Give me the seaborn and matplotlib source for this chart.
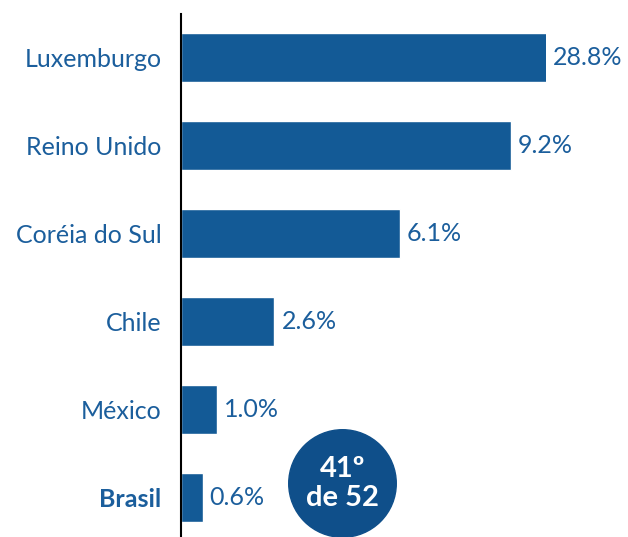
import matplotlib
matplotlib.use('Agg')
import matplotlib.pyplot as plt
import seaborn as sns
import pandas as pd

# dados
paises = ['Luxemburgo', 'Reino Unido', 'Coréia do Sul', 'Chile', 'México', 'Brasil']
valores = [28.8, 9.2, 6.1, 2.6, 1.0, 0.6]
rotulos = ['28.8%', '9.2%', '6.1%', '2.6%', '1.0%', '0.6%']
ranking = '41º\nde 52'

AZUL_BARRA = '#135a96'
AZUL_TEXTO = '#1b5e9c'
AZUL_CIRCULO = '#0f4f8a'

sns.set_style('white')
plt.rcParams['font.family'] = ['Lato', 'DejaVu Sans']

df = pd.DataFrame({'pais': paises, 'valor': valores})

fig = plt.figure(figsize=(6.28, 5.37), dpi=100)
ax = fig.add_axes([181 / 628, -4.5 / 537, 365 / 628, 528 / 537])

sns.barplot(data=df, x='valor', y='pais', color=AZUL_BARRA, width=0.56,
            saturation=1, ax=ax)

# eixo quebrado: a barra de Luxemburgo fica cortada na borda
XMAX = 10.18
ax.set_xlim(0, XMAX)
ax.set_ylim(5.5, -0.5)

for i, (v, r) in enumerate(zip(valores, rotulos)):
    ax.text(min(v, XMAX) + 0.2, i, r, va='center', ha='left', fontsize=18,
            color=AZUL_TEXTO, clip_on=False)

ax.set_xlabel('')
ax.set_ylabel('')
ax.set_xticks([])
ax.set_yticks(range(len(paises)))
ax.set_yticklabels(paises, fontsize=18, color=AZUL_TEXTO)
ax.get_yticklabels()[-1].set_fontweight('bold')
ax.tick_params(axis='y', length=0, pad=14)

for s in ['top', 'right', 'bottom']:
    ax.spines[s].set_visible(False)
ax.spines['left'].set_color('black')
ax.spines['left'].set_linewidth(1.5)

# selo do ranking
ax.scatter([4.5], [4.84], s=6000, color=AZUL_CIRCULO, clip_on=False, zorder=5)
ax.text(4.5, 4.84, ranking, ha='center', va='center', fontsize=21,
        fontweight='bold', color='white', linespacing=1.15, zorder=6)

fig.savefig('out.png', dpi=100)
